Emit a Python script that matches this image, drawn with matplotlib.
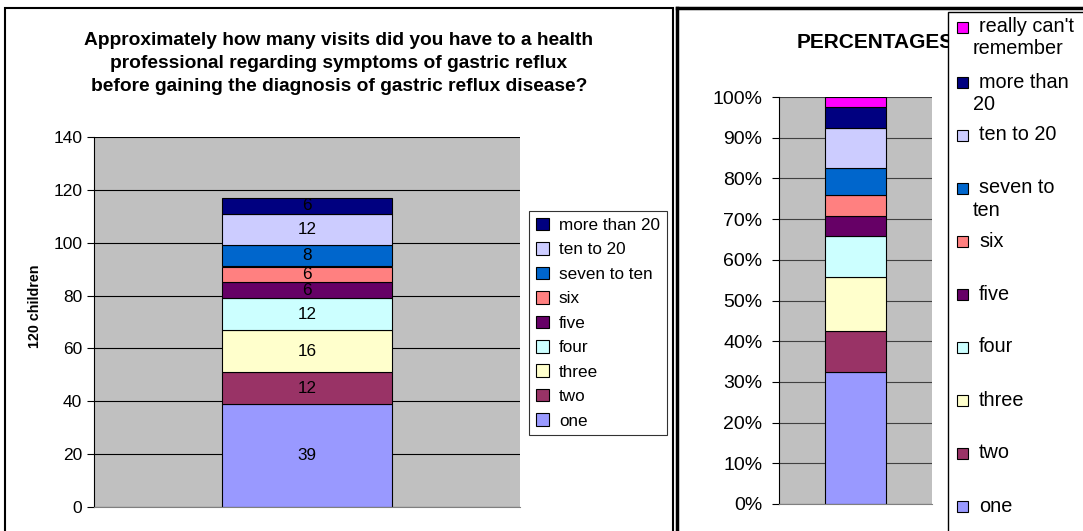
import numpy as np
import matplotlib.pyplot as plt
from matplotlib.patches import Rectangle
from matplotlib.lines import Line2D

plt.rcParams['font.family'] = ['Liberation Sans', 'DejaVu Sans']

# data (number of children per answer)
categories = ['one', 'two', 'three', 'four', 'five', 'six',
              'seven to ten', 'ten to 20', 'more than 20']
counts = [39, 12, 16, 12, 6, 6, 8, 12, 6]
colors = ['#9999FF', '#993366', '#FFFFCC', '#CCFFFF', '#660066',
          '#FF8080', '#0066CC', '#CCCCFF', '#000080']

# right chart also has the "really can't remember" group
pct_labels = ['one', 'two', 'three', 'four', 'five', 'six',
              'seven to\nten', 'ten to 20', 'more than\n20',
              "really can't\nremember"]
pct_counts = counts + [3]
pct_colors = colors + ['#FF00FF']

left_title = ('Approximately how many visits did you have to a health\n'
              'professional regarding symptoms of gastric reflux\n'
              'before gaining the diagnosis of gastric reflux disease?')

W, H = 1083, 531
fig = plt.figure(figsize=(W / 100, H / 100), dpi=100)


def box(x0, y0, w, h):
    # pixel box (top-left origin) -> figure fraction
    return [x0 / W, 1 - (y0 + h) / H, w / W, h / H]


# panel borders
fig.patches.append(Rectangle((5 / W, -0.1), 668 / W, 1.1 - 8 / H,
                             transform=fig.transFigure, fill=False,
                             ec='black', lw=1.5, zorder=0))
fig.add_artist(Line2D([677 / W, 677 / W], [0, 1 - 8 / H], color='black', lw=2.5))
fig.add_artist(Line2D([677 / W, 1], [1 - 8 / H, 1 - 8 / H], color='black', lw=2.5))

# ---- left chart: counts ----
ax1 = fig.add_axes(box(94, 137, 426, 370))
ax1.set_facecolor('#C0C0C0')
ax1.set_axisbelow(True)
bottom = 0
handles = []
for name, v, col in zip(categories, counts, colors):
    b = ax1.bar(0, v, 0.8, bottom=bottom, color=col, edgecolor='black',
                lw=0.8, label=name)
    ax1.bar_label(b, labels=[str(v)], label_type='center', fontsize=12.3)
    handles.append(b)
    bottom += v
ax1.set_xlim(-1, 1)
ax1.set_ylim(0, 140)
ax1.set_yticks(np.arange(0, 141, 20))
ax1.set_xticks([])
ax1.tick_params(axis='y', labelsize=12.5, length=5, width=0.8)
ax1.grid(axis='y', color='black', lw=0.8)
for s in ['top', 'right']:
    ax1.spines[s].set_visible(False)
ax1.spines['bottom'].set_color('#808080')
fig.text(35 / W, 1 - 306 / H, '120 children', rotation=90, ha='center',
         va='center', fontsize=10.3, fontweight='bold')
fig.text(339 / W, 1 - 63.5 / H, left_title, ha='center', va='center',
         fontsize=13.8, fontweight='bold', linespacing=1.48)
leg = ax1.legend(handles[::-1], categories[::-1], loc='upper left',
                 bbox_to_anchor=(529 / W, 1 - 211 / H),
                 bbox_transform=fig.transFigure, fancybox=False,
                 edgecolor='black', fontsize=12.3, handlelength=0.75,
                 handleheight=0.75, handletextpad=0.6, labelspacing=0.54,
                 borderpad=0.4, borderaxespad=0)
leg.get_frame().set_linewidth(0.8)

# ---- right chart: percentages ----
pct = np.array(pct_counts) / np.sum(pct_counts) * 100
ax2 = fig.add_axes(box(779, 97, 153, 407))
ax2.set_facecolor('#C0C0C0')
ax2.set_axisbelow(True)
bottom = 0
for v, col in zip(pct, pct_colors):
    ax2.bar(0, v, 0.8, bottom=bottom, color=col, edgecolor='black', lw=0.8)
    bottom += v
ax2.set_xlim(-1, 1)
ax2.set_ylim(0, 100)
ax2.set_yticks(np.arange(0, 101, 10))
ax2.set_yticklabels([f'{t}%' for t in range(0, 101, 10)])
ax2.set_xticks([])
ax2.tick_params(axis='y', labelsize=14, length=5, width=0.8, pad=7)
ax2.grid(axis='y', color='#404040', lw=0.8)
for s in ['top', 'right']:
    ax2.spines[s].set_visible(False)
ax2.spines['bottom'].set_color('#808080')
fig.text(797 / W, 1 - 42 / H, 'PERCENTAGES', ha='left', va='center',
         fontsize=15, fontweight='bold')

# right legend, drawn by hand to keep Excel's even spacing
fig.patches.append(Rectangle((948 / W, -0.1), 0.2, 1.1 - 12 / H,
                             transform=fig.transFigure, fc='white',
                             ec='black', lw=1, zorder=5))
ys = [506, 453, 400, 347, 294, 241, 188, 135, 82, 27]
for lab, col, y in zip(pct_labels, pct_colors, ys):
    fig.patches.append(Rectangle((957 / W, 1 - (y + 6) / H), 11 / W, 11 / H,
                                 transform=fig.transFigure, fc=col,
                                 ec='black', lw=0.8, zorder=6))
    lines = lab.split('\n')
    fig.text(979 / W, 1 - y / H, lines[0], ha='left', va='center',
             fontsize=14.3, zorder=7)
    if len(lines) > 1:
        fig.text(973 / W, 1 - (y + 22) / H, lines[1], ha='left', va='center',
                 fontsize=14.3, zorder=7)

fig.savefig('out.png', dpi=100)
